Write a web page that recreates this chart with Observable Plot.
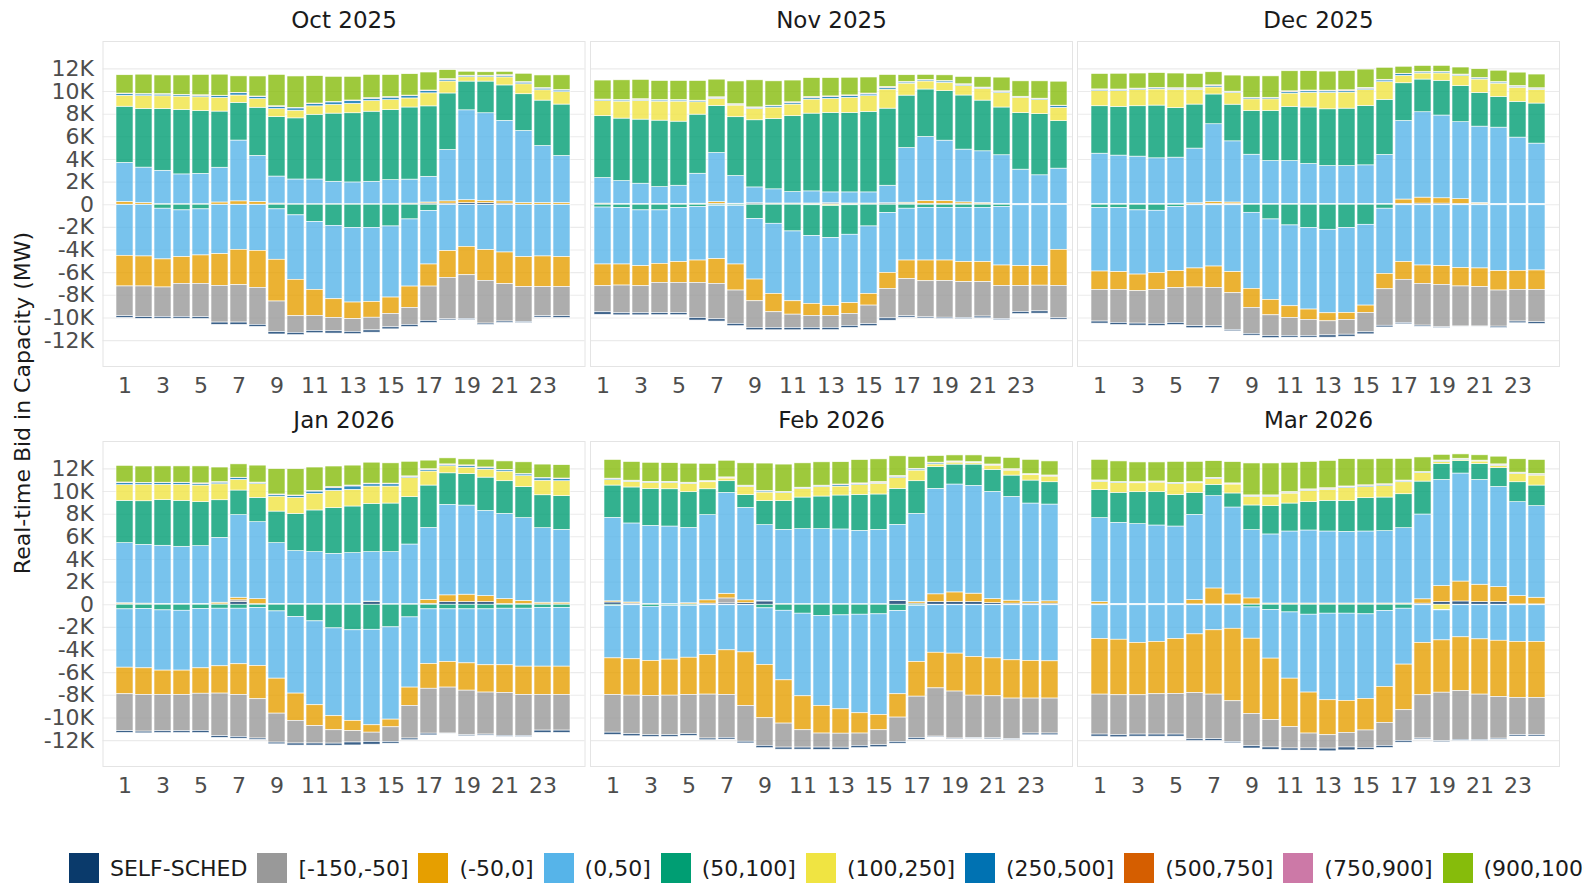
<!DOCTYPE html>
<html><head><meta charset="utf-8">
<script src="https://cdn.jsdelivr.net/npm/d3@7"></script>
<script src="https://cdn.jsdelivr.net/npm/@observablehq/plot@0.6"></script>
<style>
html,body{margin:0;padding:0;background:#fff;}
#root{position:relative;width:1584px;height:883px;overflow:hidden;background:#fff;font-family:"DejaVu Sans",sans-serif;}
</style></head>
<body><div id="root"></div>
<script>
const months = ["Oct 2025","Nov 2025","Dec 2025","Jan 2026","Feb 2026","Mar 2026"];
const categories = ["SELF-SCHED","[-150,-50]","(-50,0]","(0,50]","(50,100]","(100,250]","(250,500]","(500,750]","(750,900]","(900,1000]"];
const colors = ["#0a3a6b","#999999","#e69f00","#56b4e9","#009e73","#f0e442","#0072b2","#d55e00","#cc79a7","#86bc0b"];
const hours24 = [1,2,3,4,5,6,7,8,9,10,11,12,13,14,15,16,17,18,19,20,21,22,23,24];
const hours25 = [1,2,3,4,5,6,7,8,9,10,11,12,13,14,15,16,17,18,19,20,21,22,23,24,25];
const xTickLabels = [1,3,5,7,9,11,13,15,17,19,21,23];
const yTickValues = [-12000,-10000,-8000,-6000,-4000,-2000,0,2000,4000,6000,8000,10000,12000];

// ---- Oct 2025 (MW) ----
const octPosSched = [0,0,0,0,0,0,0,0,50,0,0,0,0,0,0,50,100,100,150,150,100,0,0,0];
const octPosOrange = [250,150,50,50,50,200,300,250,50,50,50,50,50,50,50,50,100,200,250,200,200,150,150,150];
const octPosLblue = [3450,3130,2950,2630,2680,3070,5370,4070,2390,2180,2180,1980,1920,1980,2120,2120,2270,4540,7940,7730,7110,6370,5040,4160];
const octPosGreen = [4960,5190,5460,5690,5550,4960,3330,4250,5250,5400,5720,6020,6110,6190,6190,6370,6220,4990,2540,2800,3130,3240,4010,4540];
const octPosYellow = [970,1120,1120,1180,1210,1210,650,770,710,680,740,770,830,940,880,800,1150,1060,380,380,710,880,910,1090];
const octPosBlue = [150,150,150,120,120,150,200,180,200,200,200,220,250,200,220,200,200,150,100,100,120,150,150,150];
const octPosRed = [20,20,20,20,30,20,20,20,30,30,30,30,30,30,30,30,30,30,20,20,30,20,20,20];
const octPosPink = [20,20,20,20,30,20,20,20,20,20,20,20,20,20,20,20,20,20,20,20,40,20,20,20];
const octPosLgreen = [1620,1710,1650,1710,1800,1860,1450,1770,2770,2770,2420,2210,2090,2060,1950,1890,1590,800,350,300,300,740,1120,1300];
const octNegGreen = [30,30,350,500,410,30,30,30,410,940,1530,1860,2060,2040,1920,1300,560,30,30,30,30,30,30,30];
const octNegLblue = [4480,4540,4480,4130,4070,4340,3950,4040,4450,5690,5990,6490,6580,6550,6280,5930,4720,4070,3690,3980,4190,4600,4540,4600];
const octNegOrange = [2710,2650,2480,2360,2510,2800,3130,3270,3690,3220,2300,1650,1470,1390,1450,1890,1950,2360,2510,2710,2800,2650,2710,2650];
const octNegGrey = [2630,2710,2600,2920,2950,3240,3300,3270,2710,1470,1330,1180,1120,1120,1180,1500,3040,3660,3860,3780,3300,3070,2570,2570];
const octNegSched = [150,150,150,150,150,200,200,180,200,200,200,200,200,200,180,180,180,100,100,120,120,100,120,150];

// ---- Nov 2025 (25 hours) ----
const novPosSched = [50,30,30,30,30,30,80,30,100,80,80,80,100,80,80,100,80,80,80,60,50,30,30,30,30];
const novPosOrange = [50,50,50,50,50,60,150,60,30,30,30,30,30,30,30,30,100,250,250,150,100,50,50,50,50];
const novPosLblue = [2260,2010,1780,1480,1600,2650,4340,2450,1400,1250,1010,1070,960,980,980,1550,4830,5660,5330,4660,4570,4290,3020,2520,3110];
const novPosGreen = [5460,5520,5660,5870,5660,5220,4160,5190,5930,6220,6700,6870,7020,7020,7110,6810,4630,4190,4370,4780,4480,4220,4990,5400,4190];
const novPosYellow = [1330,1500,1650,1680,1770,1090,620,1030,1000,1000,1030,1240,1240,1330,1390,1680,1060,710,740,830,1030,1270,1360,1240,1180];
const novPosBlue = [100,100,100,100,100,100,100,80,100,120,150,150,150,150,150,150,100,100,120,120,80,120,50,80,150];
const novPosRed = [20,20,30,20,20,20,20,20,20,30,30,40,40,40,40,40,30,20,20,20,20,20,20,30,20];
const novPosPink = [20,20,20,20,20,20,20,20,20,20,20,30,30,30,40,40,20,20,20,20,20,20,20,20,20];
const novPosLgreen = [1680,1740,1710,1680,1680,1740,1560,2010,2390,2150,1920,1680,1620,1560,1420,1060,590,440,500,650,910,1210,1360,1530,2120];
const novNegYellow = [0,0,0,0,0,0,0,0,0,0,0,50,120,50,0,0,0,0,0,0,0,0,0,0,0];
const novNegGreen = [250,300,500,500,300,200,100,100,1270,1680,2360,2720,2830,2600,1920,740,350,270,270,270,270,200,50,50,30];
const novNegLblue = [5030,4980,4930,4720,4770,4730,4710,5180,5340,6200,6170,5990,5990,6050,5960,5280,4580,4660,4660,4800,4800,5170,5380,5380,3950];
const novNegOrange = [1920,1860,1770,1680,1830,1980,2180,2300,1920,1620,1180,1060,880,940,1030,1420,1650,1830,1810,1770,1770,1810,1750,1720,3190];
const novNegGrey = [2300,2450,2390,2680,2680,3100,3130,2950,2360,1390,1180,1060,1060,1060,1640,2600,3270,3190,3240,3160,3040,2920,2300,2270,2860];
const novNegSched = [220,180,180,180,180,220,200,200,200,200,200,200,200,180,180,200,120,100,100,100,150,100,180,200,120];

// ---- Dec 2025 ----
const decPosSched = [30,30,30,30,30,30,50,50,30,30,30,30,30,30,30,30,80,100,100,80,50,30,30,30];
const decPosOrange = [50,50,50,50,50,100,180,150,50,50,50,50,50,50,50,50,380,530,470,410,100,50,50,50];
const decPosLblue = [4430,4260,4170,4020,4080,4830,6880,5400,4340,3780,3780,3520,3340,3340,3400,4320,6940,7540,7310,6800,6750,6730,5850,5320];
const decPosGreen = [4190,4310,4450,4660,4370,3890,2630,3240,3860,4420,4780,4990,5010,5070,5250,4870,3330,2890,3070,3190,2980,2710,3160,3540];
const decPosYellow = [1330,1390,1420,1420,1620,1300,620,1030,1030,1030,1180,1300,1450,1420,1390,1560,650,530,650,880,1180,1180,1240,1210];
const decPosBlue = [120,100,100,100,100,100,130,80,100,100,130,130,130,130,130,150,150,100,100,100,100,100,100,100];
const decPosRed = [20,20,20,20,20,20,30,20,20,20,40,40,40,40,40,30,20,20,20,20,20,20,30,20];
const decPosPink = [20,20,20,30,20,20,30,20,20,20,30,30,30,30,30,30,20,20,20,20,20,20,30,20];
const decPosLgreen = [1360,1390,1330,1300,1300,1270,1150,1420,1890,1890,1770,1710,1680,1710,1620,1060,620,530,530,620,770,1000,1180,1210];
const decNegGreen = [300,300,500,530,200,50,50,50,710,1300,1830,2060,2210,2060,1770,350,50,50,50,50,50,50,50,50];
const decNegLblue = [5600,5660,5670,5520,5670,5580,5410,5910,6720,7110,7140,7200,7380,7500,7140,5760,5020,5320,5380,5550,5580,5820,5790,5760];
const decNegOrange = [1620,1560,1470,1470,1500,1680,1890,1860,1680,1360,1030,910,710,620,650,1360,1560,1620,1650,1620,1650,1710,1680,1710];
const decNegGrey = [2800,2920,2860,3010,3070,3420,3390,3240,2300,1830,1590,1420,1240,1300,1710,3220,3810,3690,3750,3540,3480,3190,2800,2860];
const decNegSched = [180,180,180,180,180,180,150,120,150,180,150,150,200,180,180,150,120,100,60,60,60,120,150,150];

// ---- Jan 2026 ----
const janPosSched = [50,50,30,30,30,30,240,50,30,30,30,30,30,250,30,30,80,240,240,240,60,50,30,30];
const janPosGrey = [0,0,0,0,0,0,150,0,0,0,0,0,0,0,0,0,0,0,0,0,0,0,0,0];
const janPosOrange = [80,50,50,50,50,150,230,440,50,50,30,30,30,30,30,30,350,590,650,530,440,290,150,150];
const janPosLblue = [5310,5190,5130,5040,5100,5730,7290,6800,5360,4660,4590,4440,4500,4370,4590,5260,6360,7990,7870,7520,7530,7310,6580,6440];
const janPosGreen = [3740,3850,4030,4060,3880,3320,2180,2150,2790,3290,3680,4030,4120,4260,4290,4180,3740,2790,2790,2940,2880,2740,2910,2970];
const janPosYellow = [1380,1440,1350,1410,1470,1410,940,1210,1320,1410,1470,1530,1470,1530,1500,1680,1240,620,560,710,850,970,1290,1320];
const janPosBlue = [200,150,150,150,150,150,150,100,150,150,200,250,300,200,200,120,150,120,150,150,120,150,200,200];
const janPosRed = [20,20,20,20,20,20,20,20,20,30,30,40,40,30,30,20,20,20,20,20,20,20,20,20];
const janPosPink = [20,20,20,20,20,20,20,20,20,30,30,40,40,30,30,20,30,30,30,20,20,20,20,20];
const janPosLgreen = [1470,1440,1440,1440,1500,1290,1180,1500,2240,2320,2060,1820,1760,1850,1790,1290,760,530,530,680,740,1030,1180,1180];
const janNegGreen = [410,380,500,530,380,350,350,290,590,1090,1470,2090,2260,2210,2000,1120,410,410,410,410,350,350,290,290];
const janNegLblue = [5150,5240,5320,5290,5240,5090,4910,5120,5940,6760,7410,7760,8000,8440,8150,6200,4830,4650,4770,4940,5000,5120,5180,5180];
const janNegOrange = [2350,2350,2150,2150,2240,2410,2710,2940,3090,2410,1850,1240,910,650,680,1620,2180,2260,2410,2410,2440,2500,2500,2500];
const janNegGrey = [3260,3240,3210,3210,3290,3760,3710,3470,2560,2000,1530,1180,1000,820,1290,2880,3970,4060,3940,3710,3790,3620,3150,3150];
const janNegSched = [150,150,150,150,180,150,150,120,150,180,180,180,260,240,150,150,150,60,90,90,90,90,200,200];

// ---- Feb 2026 ----
const febPosSched = [200,100,50,30,30,100,120,150,290,50,30,30,30,30,30,320,100,240,240,240,150,100,100,100];
const febPosGrey = [0,0,0,0,0,0,440,0,0,0,0,0,0,0,0,0,0,0,0,0,0,0,0,0];
const febPosOrange = [100,100,30,30,100,290,410,240,30,30,30,30,30,30,30,30,150,680,850,740,350,260,150,200];
const febPosLblue = [7380,6980,6890,6850,6660,7520,8910,8170,6710,6540,6620,6620,6590,6470,6560,6710,7780,9320,9530,9520,9470,9170,8690,8550];
const febPosGreen = [2850,3180,3260,3290,3150,2290,1030,1120,2120,2530,2790,2880,3000,3180,3120,3180,2880,1910,1760,1880,1940,1880,2030,1970];
const febPosYellow = [470,500,530,560,740,620,240,740,760,710,760,820,790,850,940,940,940,240,180,120,380,440,470,500];
const febPosBlue = [100,60,60,60,60,60,60,60,100,60,60,80,120,80,80,120,100,100,60,60,60,60,60,60];
const febPosRed = [20,20,20,20,20,20,20,20,30,30,30,30,30,40,40,40,30,30,20,20,20,40,20,20];
const febPosPink = [20,20,20,20,20,20,20,20,20,20,20,30,30,40,40,30,30,30,20,20,20,20,20,20];
const febPosLgreen = [1650,1650,1680,1650,1680,1530,1470,1970,2410,2410,2150,2060,1970,2060,2000,1740,1060,590,530,590,680,1000,1260,1240];
const febNegGreen = [120,50,180,100,100,50,50,50,320,530,790,1000,940,880,850,560,100,50,50,50,50,50,50,50];
const febNegLblue = [4620,4770,4790,4750,4580,4390,3980,4160,5000,6150,7300,7940,8300,8710,8890,7350,4960,4190,4270,4570,4690,4860,4920,4950];
const febNegOrange = [3240,3210,3090,3180,3290,3500,3940,4740,4710,3820,3000,2440,2150,1790,1350,2060,3060,3150,3350,3410,3350,3380,3320,3290];
const febNegGrey = [3320,3410,3470,3500,3470,3880,3790,3150,2440,2120,1530,1240,1240,1090,1320,2150,3650,4260,4150,3760,3710,3590,3090,3090];
const febNegSched = [200,180,150,150,150,150,150,150,200,180,180,200,180,200,180,150,150,50,50,50,90,60,150,150];

// ---- Mar 2026 ----
const marPosSched = [30,30,30,30,30,30,30,30,30,30,30,30,30,30,30,30,30,100,240,290,240,240,30,30];
const marPosOrange = [200,50,50,50,50,380,1410,880,530,80,80,80,80,80,80,80,80,380,1410,1760,1530,1320,740,590];
const marPosLblue = [7420,7160,7040,6920,6830,7530,8150,7680,6030,6100,6360,6450,6360,6330,6360,6390,6650,7490,9380,9540,9260,8850,8290,8090];
const marPosGreen = [2470,2650,2820,2940,2790,1940,1000,1240,2180,2500,2470,2500,2710,2740,2940,2970,3000,2910,1410,1090,1410,1650,1760,1820];
const marPosYellow = [740,850,790,850,970,850,500,790,760,820,880,1000,970,1120,970,1000,1060,740,180,120,210,210,740,880];
const marPosBlue = [80,60,60,60,60,60,60,60,80,80,80,80,80,80,100,100,80,60,80,60,40,80,60,80];
const marPosRed = [20,20,20,20,20,20,40,20,30,30,30,30,40,40,40,40,40,20,20,20,20,30,30,40];
const marPosPink = [20,20,20,20,20,20,20,20,20,20,20,20,20,30,30,30,30,20,20,20,20,20,20,20];
const marPosLgreen = [1820,1820,1740,1680,1850,1790,1470,1880,2820,2820,2590,2410,2410,2410,2290,2240,1910,1290,500,380,470,680,1180,1240];
const marNegYellow = [0,0,0,0,0,0,0,0,0,0,0,0,0,0,0,0,0,0,450,0,0,0,0,0];
const marNegGreen = [50,50,50,50,50,50,50,50,240,470,680,880,790,790,850,560,350,50,50,50,50,50,50,50];
const marNegLblue = [2980,3040,3330,3240,2980,2570,2210,2070,2760,4290,5850,6880,7650,7710,7470,6700,4940,3330,2650,2830,3010,3130,3240,3240];
const marNegOrange = [4910,4910,4620,4620,4850,5180,5680,6410,6650,5440,4290,3620,3090,2820,2790,3180,4030,4620,4620,4760,4880,4970,4940,4940];
const marNegGrey = [3530,3530,3470,3560,3590,4090,3940,3590,2850,2410,1880,1320,1180,1290,1530,2030,2710,3820,4290,4290,4000,3680,3290,3290];
const marNegSched = [180,180,180,180,180,150,150,120,200,200,180,180,240,260,180,180,150,90,90,90,90,90,120,120];

// series per month, in legend (category) order; null = not present
const posSeries = [
  [octPosSched, null, octPosOrange, octPosLblue, octPosGreen, octPosYellow, octPosBlue, octPosRed, octPosPink, octPosLgreen],
  [novPosSched, null, novPosOrange, novPosLblue, novPosGreen, novPosYellow, novPosBlue, novPosRed, novPosPink, novPosLgreen],
  [decPosSched, null, decPosOrange, decPosLblue, decPosGreen, decPosYellow, decPosBlue, decPosRed, decPosPink, decPosLgreen],
  [janPosSched, janPosGrey, janPosOrange, janPosLblue, janPosGreen, janPosYellow, janPosBlue, janPosRed, janPosPink, janPosLgreen],
  [febPosSched, febPosGrey, febPosOrange, febPosLblue, febPosGreen, febPosYellow, febPosBlue, febPosRed, febPosPink, febPosLgreen],
  [marPosSched, null, marPosOrange, marPosLblue, marPosGreen, marPosYellow, marPosBlue, marPosRed, marPosPink, marPosLgreen]
];
const negSeries = [
  [octNegSched, octNegGrey, octNegOrange, octNegLblue, octNegGreen, null, null, null, null, null],
  [novNegSched, novNegGrey, novNegOrange, novNegLblue, novNegGreen, novNegYellow, null, null, null, null],
  [decNegSched, decNegGrey, decNegOrange, decNegLblue, decNegGreen, null, null, null, null, null],
  [janNegSched, janNegGrey, janNegOrange, janNegLblue, janNegGreen, null, null, null, null, null],
  [febNegSched, febNegGrey, febNegOrange, febNegLblue, febNegGreen, null, null, null, null, null],
  [marNegSched, marNegGrey, marNegOrange, marNegLblue, marNegGreen, marNegYellow, null, null, null, null]
];

// ---- layout ----
const root = document.getElementById("root");
const colLeft = [102.5, 589.5, 1076.5];
const rowTop = [41, 441];
const PW = 482, PH = 325, MT = 41, MB = 34;
const fmt = d => d === 0 ? "0" : `${d / 1000}K`;

months.forEach((month, mi) => {
  const col = mi % 3, row = Math.floor(mi / 3);
  const hrs = month === "Nov 2025" ? hours25 : hours24;
  const pos = [], neg = [];
  posSeries[mi].forEach((arr, ci) => {
    if (!arr) return;
    hrs.forEach((h, k) => { if (arr[k] > 0) pos.push({hour: h, category: categories[ci], value: arr[k]}); });
  });
  for (let ci = categories.length - 1; ci >= 0; ci--) {
    const arr = negSeries[mi][ci];
    if (!arr) continue;
    hrs.forEach((h, k) => { if (arr[k] > 0) neg.push({hour: h, category: categories[ci], value: -arr[k]}); });
  }
  const ml = col === 0 ? colLeft[0] : 2;
  const mr = 2;
  const plot = Plot.plot({
    width: ml + PW + mr,
    height: MT + PH + MB,
    marginLeft: ml, marginRight: mr, marginTop: MT, marginBottom: MB,
    style: {fontFamily: "DejaVu Sans, sans-serif", background: "transparent", overflow: "visible"},
    x: {type: "band", domain: hrs, paddingInner: 0.1, paddingOuter: 0.15, align: 0.5, axis: null},
    y: {domain: [-14290, 14420], axis: null},
    color: {domain: categories, range: colors},
    marks: [
      Plot.gridY(yTickValues, {stroke: "#ebebeb", strokeOpacity: 1, strokeWidth: 1.1}),
      Plot.frame({stroke: "#e4e4e4", strokeWidth: 1}),
      Plot.barY(pos, {x: "hour", y: "value", fill: "category", fillOpacity: 0.8, stroke: "white", strokeWidth: 0.6}),
      Plot.barY(neg, {x: "hour", y: "value", fill: "category", fillOpacity: 0.8, stroke: "white", strokeWidth: 0.6}),
      Plot.axisX(xTickLabels, {tickSize: 0, tickPadding: 11, fontSize: 22, color: "#4d4d4d", label: null}),
      col === 0 ? Plot.axisY(yTickValues, {tickSize: 0, tickPadding: 9, fontSize: 22, color: "#4d4d4d", tickFormat: fmt, label: null}) : null,
      Plot.text([month], {frameAnchor: "top", lineAnchor: "middle", dy: -21, fontSize: 23, fill: "#1a1a1a"})
    ]
  });
  const wrap = document.createElement("div");
  wrap.style.cssText = `position:absolute;left:${colLeft[col] - ml}px;top:${rowTop[row] - MT}px;width:${ml + PW + mr}px;height:${MT + PH + MB}px;`;
  wrap.appendChild(plot);
  root.appendChild(wrap);
});

// y axis title
const yt = document.createElement("div");
yt.textContent = "Real-time Bid in Capacity (MW)";
yt.style.cssText = "position:absolute;left:22px;top:403px;transform:translate(-50%,-50%) rotate(-90deg);white-space:nowrap;font-size:22px;color:#1a1a1a;";
root.appendChild(yt);

// legend
const lg = document.createElement("div");
lg.style.cssText = "position:absolute;left:69px;top:853px;height:30px;display:flex;align-items:center;white-space:nowrap;font-size:22px;color:#1a1a1a;";
categories.forEach((c, i) => {
  const key = document.createElement("span");
  key.style.cssText = `display:inline-block;width:30px;height:30px;background:${colors[i]};margin-right:11px;flex:none;`;
  const lab = document.createElement("span");
  lab.textContent = c;
  lab.style.cssText = "margin-right:10px;flex:none;";
  lg.appendChild(key); lg.appendChild(lab);
});
root.appendChild(lg);
</script></body></html>
